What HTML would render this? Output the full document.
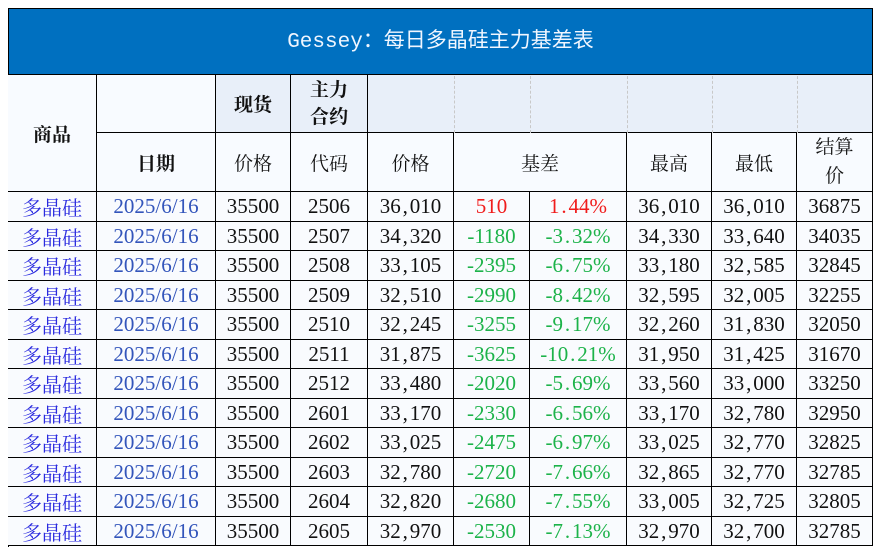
<!DOCTYPE html>
<html><head><meta charset="utf-8"><style>
body{margin:0;width:882px;height:556px;background:#fff;position:relative;overflow:hidden;font-family:"Liberation Serif","Noto Serif CJK SC",serif;}
.t{position:absolute;left:8px;top:8px;width:865px;height:67px;background:#0070c0;color:#f0f6ff;font-size:21px;line-height:67px;text-align:center;font-family:"Liberation Mono","Noto Sans CJK SC",sans-serif;border:1px solid #000;box-sizing:border-box;}
.c{position:absolute;box-sizing:border-box;display:flex;align-items:center;justify-content:center;text-align:center;color:#111;white-space:nowrap;}
.b{border-right:1px solid #000;border-bottom:1px solid #000;}
</style></head><body>
<div class="t">Gessey：每日多晶硅主力基差表</div>
<div id="g"></div>
<script>
var h='';
function cell(x1,x2,y1,y2,txt,st){h+='<div class="c b" style="left:'+x1+'px;top:'+y1+'px;width:'+(x2-x1)+'px;height:'+(y2-y1)+'px;'+(st||'')+'">'+txt+'</div>';}
h+='<div style="position:absolute;left:8px;top:75px;width:1px;height:472px;background:#000"></div>';
var hb='font-weight:bold;font-size:19px;';
cell(8,97,75,192,'商品','background:#f8fbff;'+hb);
cell(97,216,75,133,'','background:#f8fbff;');
cell(216,291,75,133,'现货','background:#e8eff9;'+hb);
cell(291,368,75,133,'主力<br>合约','background:#e8eff9;line-height:27px;'+hb);
h+='<div class="c" style="left:368px;top:75px;width:505px;height:58px;background:#e8eff9;border-right:1px solid #000;border-bottom:1px solid #000"></div>';
[454,530,627,712,797].forEach(function(x){h+='<div style="position:absolute;left:'+x+'px;top:76px;height:57px;border-left:1px dashed #c8c8c8"></div>';});
var hs='background:#f8fbff;font-size:19px;';
cell(97,216,133,192,'日期',hs+'font-weight:bold;');
cell(216,291,133,192,'价格',hs);
cell(291,368,133,192,'代码',hs);
cell(368,454,133,192,'价格',hs);
cell(454,627,133,192,'基差',hs);
cell(627,712,133,192,'最高',hs);
cell(712,797,133,192,'最低',hs);
cell(797,873,133,192,'结算<br>价',hs+'line-height:29px;');
var D=[
['2506','36,010','510','1.44%','36,010','36,010','36875'],
['2507','34,320','-1180','-3.32%','34,330','33,640','34035'],
['2508','33,105','-2395','-6.75%','33,180','32,585','32845'],
['2509','32,510','-2990','-8.42%','32,595','32,005','32255'],
['2510','32,245','-3255','-9.17%','32,260','31,830','32050'],
['2511','31,875','-3625','-10.21%','31,950','31,425','31670'],
['2512','33,480','-2020','-5.69%','33,560','33,000','33250'],
['2601','33,170','-2330','-6.56%','33,170','32,780','32950'],
['2602','33,025','-2475','-6.97%','33,025','32,770','32825'],
['2603','32,780','-2720','-7.66%','32,865','32,770','32785'],
['2604','32,820','-2680','-7.55%','33,005','32,725','32805'],
['2605','32,970','-2530','-7.13%','32,970','32,700','32785']];
function fc(s){return s.replace(',','<span style="display:inline-block;width:9px">,</span>').replace('.','<span style="display:inline-block;width:9px">.</span>');}
var y=192,rh=354/12;
D.forEach(function(r,i){
 var y1=Math.round(y+i*rh),y2=Math.round(y+(i+1)*rh);
 var bs='background:#f9fbfe;font-size:21px;';
 var col=r[2][0]=='-'?'#1db34a':'#f01c1c';
 cell(8,97,y1,y2,'多晶硅',bs+'color:#2a2adf;font-family:\'Noto Serif CJK SC\',serif;font-size:20px;');
 cell(97,216,y1,y2,'2025/6/16',bs+'color:#3355bb;');
 cell(216,291,y1,y2,'35500',bs);
 cell(291,368,y1,y2,r[0],bs);
 cell(368,454,y1,y2,fc(r[1]),bs);
 cell(454,530,y1,y2,r[2],bs+'color:'+col);
 cell(530,627,y1,y2,fc(r[3]),bs+'color:'+col);
 cell(627,712,y1,y2,fc(r[4]),bs);
 cell(712,797,y1,y2,fc(r[5]),bs);
 cell(797,873,y1,y2,r[6],bs);
});
document.getElementById('g').innerHTML=h;
</script>
</body></html>
